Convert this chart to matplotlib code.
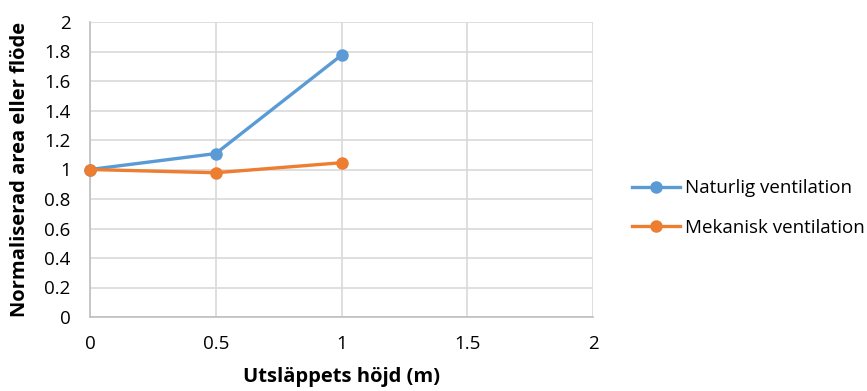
import matplotlib
matplotlib.use("Agg")
import matplotlib.pyplot as plt

hojd = [0, 0.5, 1]
naturlig = [1.0, 1.108, 1.775]
mekanisk = [1.0, 0.978, 1.046]
xticks = [0, 0.5, 1, 1.5, 2]
yticks = [0, 0.2, 0.4, 0.6, 0.8, 1, 1.2, 1.4, 1.6, 1.8, 2]

plt.rcParams["font.family"] = ["Open Sans", "DejaVu Sans"]

fig = plt.figure(figsize=(8.67, 3.91), dpi=100)
ax = fig.add_axes([90 / 867, 74 / 391, 503 / 867, 295 / 391])

ax.plot(hojd, naturlig, color="#5B9BD5", lw=2.4, marker="o", ms=8,
        label="Naturlig ventilation", zorder=3, clip_on=False)
ax.plot(hojd, mekanisk, color="#ED7D31", lw=2.4, marker="o", ms=8,
        label="Mekanisk ventilation", zorder=3, clip_on=False)

ax.set_xlim(0, 2)
ax.set_ylim(0, 2)
ax.set_xticks(xticks)
ax.set_xticklabels([f"{v:g}" for v in xticks])
ax.set_yticks(yticks)
ax.set_yticklabels([f"{v:g}" for v in yticks])
ax.grid(True, color="#D9D9D9", lw=1.2)
ax.set_axisbelow(True)
for s in ["top", "right"]:
    ax.spines[s].set_visible(False)
for s in ["left", "bottom"]:
    ax.spines[s].set_color("#BFBFBF")
    ax.spines[s].set_linewidth(1.2)
ax.tick_params(axis="y", length=0, labelsize=13.5, pad=14, colors="black")
ax.tick_params(axis="x", length=0, labelsize=13.5, pad=13, colors="black")

ax.set_xlabel("Utsläppets höjd (m)", fontsize=14.5, fontweight="bold", labelpad=10)
ax.set_ylabel("Normaliserad area eller flöde", fontsize=14.5, fontweight="bold", labelpad=10)

fig.legend(loc="center left", bbox_to_anchor=(624 / 867, 1 - 208 / 391),
           frameon=False, fontsize=13.5, handlelength=2.6, labelspacing=1.15,
           handletextpad=0.25, borderaxespad=0)

fig.savefig("out.png", dpi=100)
